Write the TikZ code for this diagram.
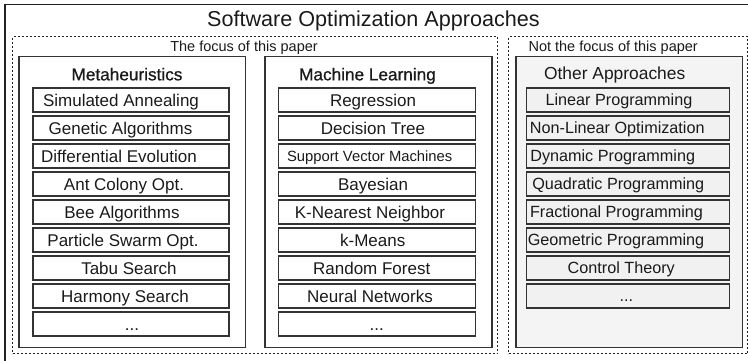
\documentclass[tikz,border=0pt]{standalone}
\usepackage{fontspec}
\setmainfont{Liberation Sans}
\newfontfamily\headfont[FakeBold=0.8]{Liberation Sans}
\newcommand\threedots{...}
\definecolor{lineC}{HTML}{222222}
\definecolor{boxC}{HTML}{333333}
\definecolor{textC}{HTML}{1A1A1A}
\definecolor{otherFill}{HTML}{F4F4F4}
\definecolor{itemFill}{HTML}{F1F1F1}
\begin{document}
\begin{tikzpicture}[x=1pt,y=-1pt,
  outerbox/.style={draw=lineC,line width=1.5pt},
  focusbox/.style={draw=lineC,line width=1.2pt,dash pattern=on 2pt off 2pt},
  groupbox/.style={draw=boxC,line width=1.5pt,inner sep=0pt,anchor=north west},
  itembox/.style={draw=boxC,line width=1.2pt,inner sep=0pt,minimum height=24pt},
  mitem/.style={itembox,minimum width=196pt},
  oitem/.style={itembox,minimum width=203.4pt,fill=itemFill},
  txt/.style={inner sep=0pt,text=textC,text depth=0pt},
  itemtxt/.style={txt,font=\fontsize{17}{20}\selectfont,text height=12.2pt},
  otxt/.style={txt,font=\fontsize{16.2}{19}\selectfont,text height=11.6pt},
  headtxt/.style={txt,font=\headfont\fontsize{17.2}{20}\selectfont,text height=12.3pt},
  labtxt/.style={txt,font=\fontsize{14.5}{17}\selectfont,text height=10.4pt},
]
\useasboundingbox (0,0) rectangle (748,361);
\clip (0,0) rectangle (748,361);
% outer frame
\node[outerbox,inner sep=0pt,anchor=north west,minimum width=760pt,minimum height=360pt] (outer) at (4,4) {};
\node[txt,font=\fontsize{21.6}{25}\selectfont,text height=15.5pt] (title) at (373.5,19.2) {Software Optimization Approaches};
% focus areas
\node[focusbox,inner sep=0pt,anchor=north west,minimum width=485pt,minimum height=317pt] (focus) at (12,36) {};
\node[focusbox,inner sep=0pt,anchor=north west,minimum width=239pt,minimum height=317pt] (notfocus) at (508,36) {};
\node[labtxt] (focuslab) at (244,46.2) {The focus of this paper};
\node[labtxt] (notfocuslab) at (613.2,46.2) {Not the focus of this paper};
% group boxes
\node[groupbox,minimum width=226.3pt,minimum height=290.7pt] (meta) at (18.3,56) {};
\node[groupbox,minimum width=227pt,minimum height=290.7pt] (ml) at (264,56) {};
\node[groupbox,minimum width=226.5pt,minimum height=290.7pt,fill=otherFill] (other) at (515,56) {};
\node[headtxt] (metahead) at (127,74.2) {Metaheuristics};
\node[headtxt] (mlhead) at (367.5,74.2) {Machine Learning};
\node[txt,font=\fontsize{17.4}{20}\selectfont,text height=12.5pt] (otherhead) at (614.7,73.6) {Other Approaches};
% Metaheuristics items
\foreach \t/\x [count=\i] in {Simulated Annealing/121,Genetic Algorithms/120.5,Differential Evolution/119,Ant Colony Opt./124,Bee Algorithms/122,Particle Swarm Opt./123,Tabu Search/129,Harmony Search/125,\threedots/132}{
  \node[mitem] (ma\i) at (131,{100+28*(\i-1)}) {};
  \node[itemtxt] (mat\i) at (\x,{100+28*(\i-1)}) {\t};
}
% Machine Learning items
\foreach \t/\x [count=\i] in {Regression/373,Decision Tree/373,Bayesian/373,K-Nearest Neighbor/370,k-Means/372.7,Random Forest/371.7,Neural Networks/370,\threedots/376.7}{
  \pgfmathtruncatemacro{\r}{\i<3 ? \i : \i+1}
  \node[mitem,minimum width=196.7pt] (ml\r) at (377.2,{100+28*(\r-1)}) {};
  \node[itemtxt] (mlt\r) at (\x,{100+28*(\r-1)}) {\t};
}
\node[mitem,minimum width=196.7pt] (ml3) at (377.2,156) {};
\node[txt,font=\fontsize{14.8}{17}\selectfont,text height=10.6pt] (mlt3) at (369.7,156) {Support Vector Machines};
% Other items
\foreach \t/\x [count=\i] in {Linear Programming/619,Non-Linear Optimization/617.3,Dynamic Programming/612.7,Quadratic Programming/618.3,Fractional Programming/616.5,Geometric Programming/616,Control Theory/621.3,\threedots/626.3}{
  \node[oitem] (oa\i) at (628,{100+28*(\i-1)}) {};
  \node[otxt] (oat\i) at (\x,{100+28*(\i-1)}) {\t};
}
\end{tikzpicture}
\end{document}
